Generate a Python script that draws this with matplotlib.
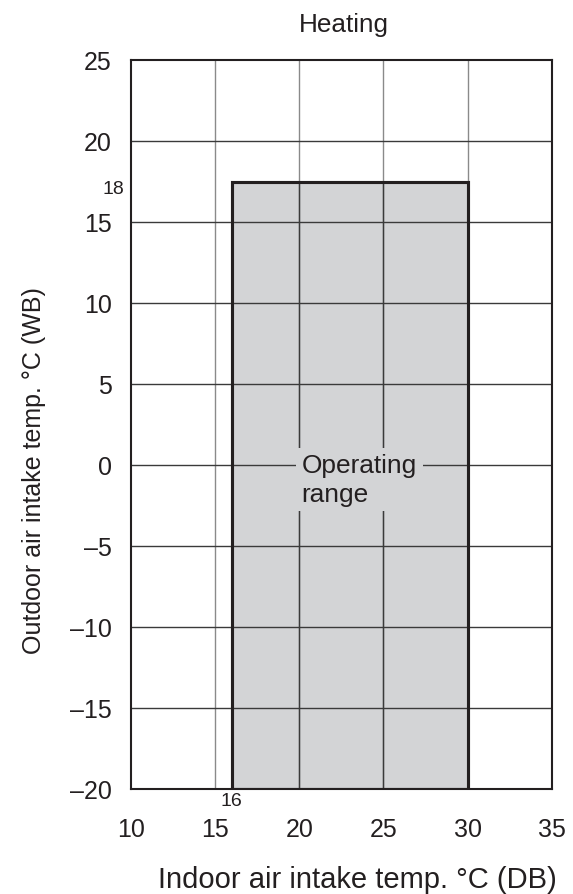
import matplotlib
matplotlib.use("Agg")
import matplotlib.pyplot as plt
from matplotlib.patches import Rectangle

plt.rcParams['font.family'] = ['Liberation Sans', 'DejaVu Sans']

# Data
x_ticks = [10, 15, 20, 25, 30, 35]
y_ticks = [25, 20, 15, 10, 5, 0, -5, -10, -15, -20]
y_tick_labels = ["25", "20", "15", "10", "5", "0", "\u20135", "\u201310", "\u201315", "\u201320"]
range_x = [16, 30]        # indoor DB range
range_y = [-20, 17.5]     # outdoor WB range (as drawn; labelled 18)
range_top_label = "18"
range_left_label = "16"
title = "Heating"
xlabel = "Indoor air intake temp. \u00b0C (DB)"
ylabel = "Outdoor air intake temp. \u00b0C (WB)"
region_label = "Operating\nrange"

txt = '#231f20'
fill = '#d3d4d6'
W, H = 573, 895
fig = plt.figure(figsize=(W / 100, H / 100), dpi=100)
ax = fig.add_axes([130.7 / W, 1 - 790 / H, (552 - 130.7) / W, (790 - 61) / H])
ax.set_xlim(10, 35)
ax.set_ylim(-20, 25)

# grid
for xv in x_ticks[1:-1]:
    ax.axvline(xv, color='#8a8a8a', lw=1.0, zorder=1)
for yv in y_ticks[1:-1]:
    ax.axhline(yv, color='#3a3a3a', lw=1.0, zorder=1)

rect = Rectangle((range_x[0], range_y[0]), range_x[1] - range_x[0], range_y[1] - range_y[0],
                 facecolor=fill, edgecolor=txt, lw=2.2, zorder=0.5)
ax.add_patch(rect)
# darker grid segments inside the filled area
for xv in x_ticks[1:-1]:
    if range_x[0] < xv < range_x[1]:
        ax.plot([xv, xv], [range_y[0], range_y[1]], color='#3a3a3a', lw=1.0, zorder=1.1)
ax.add_patch(Rectangle((range_x[0], range_y[0]), range_x[1] - range_x[0], range_y[1] - range_y[0],
                       facecolor='none', edgecolor=txt, lw=2.2, zorder=2))

ax.text(20.15, -2.2, region_label, fontsize=18.9, color=txt, ha='left', va='baseline',
        linespacing=1.22, zorder=3,
        bbox=dict(boxstyle='square,pad=0.22', facecolor=fill, edgecolor='none'))

ax.set_xticks(x_ticks)
ax.set_yticks(y_ticks)
ax.set_yticklabels(y_tick_labels)
ax.tick_params(length=0, labelsize=18, colors=txt)
ax.tick_params(axis='y', pad=13.7)
ax.tick_params(axis='x', pad=20)
for s in ax.spines.values():
    s.set_color(txt)
    s.set_linewidth(1.5)
    s.set_zorder(4)

# small annotation labels (pixel-placed text)
fig.text(231.7 / W, 1 - 801.5 / H, range_left_label, fontsize=14, color=txt, ha='center', va='center')
fig.text(124 / W, 1 - 189 / H, range_top_label, fontsize=14, color=txt, ha='right', va='center')

fig.text(344 / W, 1 - 32 / H, title, fontsize=18.8, color=txt, ha='center', va='baseline')
fig.text(357.5 / W, 1 - 888 / H, xlabel, fontsize=21, color=txt, ha='center', va='baseline')
fig.text(41 / W, 1 - 471 / H, ylabel, fontsize=18, color=txt, ha='center', va='baseline',
         rotation=90, rotation_mode='anchor')

fig.savefig("out.png", dpi=100)
